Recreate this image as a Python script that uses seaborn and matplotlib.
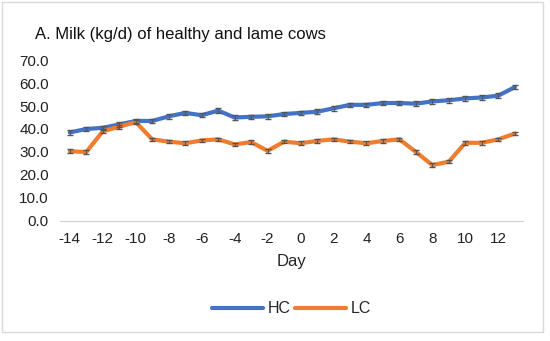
import matplotlib
matplotlib.use("Agg")
import matplotlib.pyplot as plt
import seaborn as sns
import numpy as np
import pandas as pd

# data
days = list(range(-14, 14))
hc = [38.5, 40.0, 40.5, 42.0, 43.5, 43.5, 45.5, 47.0, 46.0, 48.0, 45.0, 45.3, 45.5, 46.5,
      47.0, 47.5, 49.0, 50.5, 50.5, 51.3, 51.3, 51.0, 52.0, 52.5, 53.3, 53.7, 54.5, 58.2]
lc = [30.3, 30.0, 39.0, 41.0, 43.0, 35.5, 34.5, 33.8, 35.0, 35.5, 33.3, 34.3, 30.5, 34.5,
      33.8, 34.8, 35.5, 34.5, 33.8, 34.8, 35.5, 30.0, 24.3, 25.8, 34.0, 34.0, 35.5, 38.0]
hc_err = [1.0] * len(days)
lc_err = [0.8] * len(days)

df = pd.DataFrame({"Day": days * 2, "Milk": hc + lc,
                   "Group": ["HC"] * len(days) + ["LC"] * len(days)})

sns.set_style("white")
plt.rcParams["font.family"] = ["Liberation Sans", "DejaVu Sans"]
plt.rcParams["axes.unicode_minus"] = False

fig = plt.figure(figsize=(5.5, 3.41), dpi=100)
ax = fig.add_axes([0.109, 0.352, 0.842, 0.472])

colors = {"HC": "#4472C4", "LC": "#ED7D31"}
sns.lineplot(data=df, x="Day", y="Milk", hue="Group", palette=colors, linewidth=3,
             ax=ax, legend=False)
ax.errorbar(days, hc, yerr=hc_err, fmt="none", ecolor="#555555", elinewidth=0.8,
            capsize=2.5, zorder=3)
ax.errorbar(days, lc, yerr=lc_err, fmt="none", ecolor="#555555", elinewidth=0.8,
            capsize=2.5, zorder=3)

ax.set_xlim(-14.6, 13.5)
ax.set_ylim(0, 70)
ax.set_xticks(range(-14, 13, 2))
ax.set_yticks(np.arange(0, 71, 10))
ax.set_yticklabels([f"{v:.1f}" for v in np.arange(0, 71, 10)])
ax.tick_params(axis="both", labelsize=11, colors="#222222", length=0, pad=8)
for s in ["top", "right", "left"]:
    ax.spines[s].set_visible(False)
ax.spines["bottom"].set_color("#d0d0d0")
ax.set_xlabel("Day", fontsize=12, labelpad=6)
ax.set_ylabel("")

fig.text(0.064, 0.885, "A. Milk (kg/d) of healthy and lame cows", fontsize=12,
         color="#111111")

handles = [plt.Line2D([], [], color=colors[g], lw=3) for g in ["HC", "LC"]]
fig.legend(handles, ["HC", "LC"], loc="center", bbox_to_anchor=(0.53, 0.095), ncol=2,
           frameon=False, fontsize=11.5, handlelength=3.2, columnspacing=0.3,
           handletextpad=0.3)

fig.patches.append(plt.Rectangle((0.003, 0.025), 0.985, 0.97, transform=fig.transFigure,
                                 fill=False, edgecolor="#d9d9d9", lw=1))

fig.savefig("out.png", dpi=100)
